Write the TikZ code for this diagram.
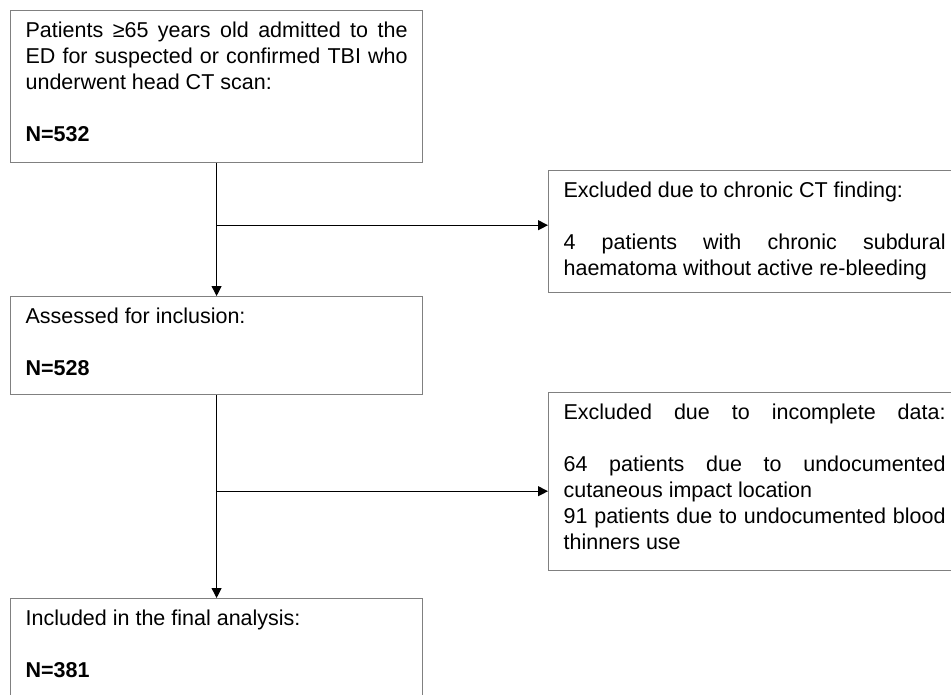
\documentclass[tikz,border=0pt]{standalone}
\usepackage{fontspec}
\setmainfont{Liberation Sans}
\usetikzlibrary{arrows.meta}
\definecolor{boxgray}{RGB}{128,128,128}
\newcommand{\gap}{\par\mbox{}\par}

\begin{document}
\begin{tikzpicture}[x=1pt,y=-1pt]
  \tikzset{flow box/.style={draw=boxgray,line width=1.2pt,anchor=north west,text width=382pt,inner xsep=15pt,inner ysep=0pt,align=justify,text height=27pt,text depth=#1,font=\fontsize{21.5}{26}\selectfont}}
  \tikzset{flow arrow/.style={line width=1.1pt,-{Triangle[length=10pt,width=10pt]}}}
  \useasboundingbox (0,0) rectangle (951,694);

  \node [flow box=125pt] (screen) at (10,10) {Patients ≥65 years old admitted to the\linebreak ED for suspected or confirmed TBI who\linebreak underwent head CT scan:\gap\textbf{N=532}}; % screened
  \node [flow box=71pt] (assess) at (10,296) {Assessed for inclusion:\gap\textbf{N=528}}; % assessed
  \node [flow box=95pt] (final) at (10,598) {Included in the final analysis:\gap\textbf{N=381}}; % included
  \node [flow box=95pt] (chronic) at (548,170) {Excluded due to chronic CT finding:\gap 4 patients with chronic subdural\linebreak haematoma without active re-bleeding}; % excluded 1
  \node [flow box=151pt] (incompl) at (548,392) {Excluded due to incomplete data:\linebreak\mbox{}\par 64 patients due to undocumented\linebreak cutaneous impact location\par 91 patients due to undocumented blood\linebreak thinners use}; % excluded 2

  \path (screen.south) ++(0,62) coordinate (split1);
  \path (assess.south) ++(0,96) coordinate (split2);
  \draw [flow arrow] (screen) -- (assess);
  \draw [flow arrow] (split1) -- (split1 -| chronic.west);
  \draw [flow arrow] (assess) -- (final);
  \draw [flow arrow] (split2) -- (split2 -| incompl.west);
\end{tikzpicture}
\end{document}
